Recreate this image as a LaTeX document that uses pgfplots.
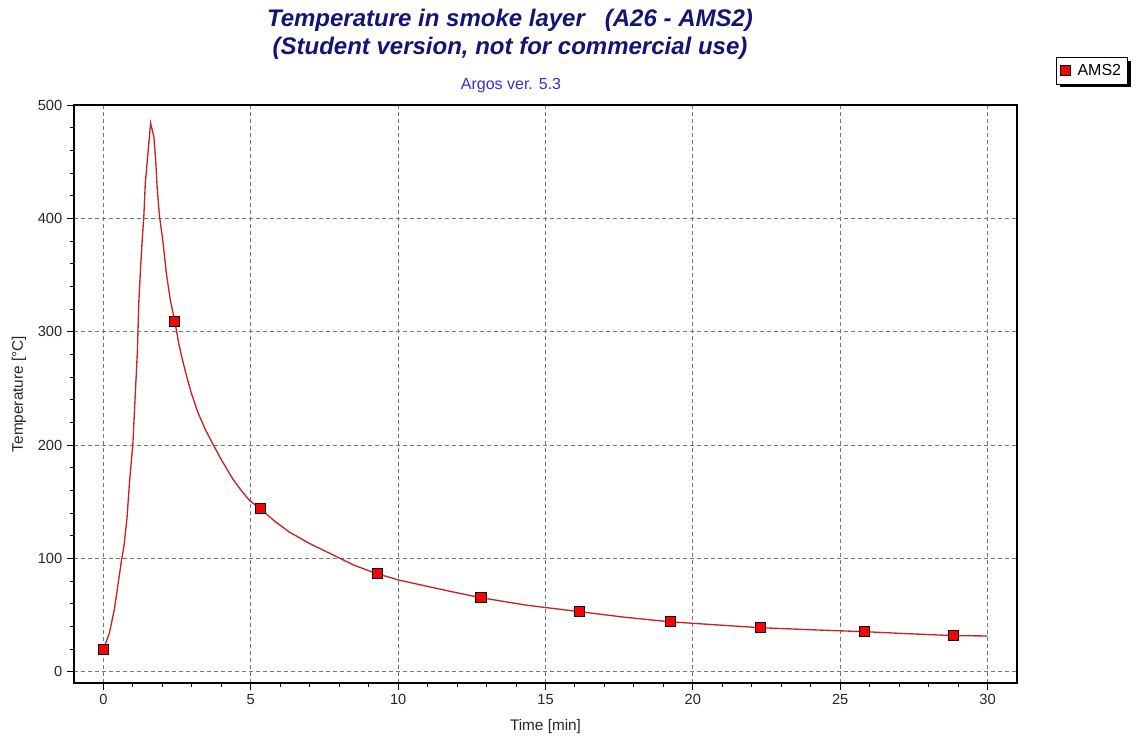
\documentclass[border=0pt]{standalone}
\usepackage{fontspec}
\setmainfont{Liberation Sans}
\usepackage{pgfplots}
\pgfplotsset{compat=1.18}
\usetikzlibrary{shadows}
\definecolor{titlenavy}{RGB}{20,20,120}
\definecolor{subblue}{RGB}{50,50,210}
\definecolor{curvered}{RGB}{200,35,35}
\definecolor{gridgray}{RGB}{120,120,120}

\begin{document}
\begin{tikzpicture}[x=0.75pt,y=0.75pt]
\path[use as bounding box] (0,0) rectangle (1137,740);
\begin{axis}[
    at={(55.5pt,42.75pt)}, anchor=south west,
    scale only axis,
    width=707.25pt, height=433.5pt,
    xmin=-1, xmax=31,
    ymin=-10, ymax=500,
    xtick={0,5,10,15,20,25,30},
    ytick={0,100,200,300,400,500},
    minor x tick num=4, minor y tick num=4,
    tick pos=left,
    tick align=outside,
    major tick length=5.25pt, minor tick length=3pt,
    xmajorgrids=true, ymajorgrids=true,
    grid style={gridgray, line width=0.75pt, dash pattern=on 3pt off 2.25pt},
    axis line style={line width=1.5pt},
    tick style={black, line width=0.75pt},
    ticklabel style={font=\fontsize{11}{13}\selectfont, black!85},
    /pgf/number format/assume math mode=true,
    xlabel={Time [min]},
    ylabel={Temperature [\textdegree C]},
    label style={font=\fontsize{11.5}{13}\selectfont, black!85},
    xlabel style={at={(axis description cs:0.5,-0.0761)}, anchor=center},
    ylabel style={at={(axis description cs:-0.0583,0.5)}, anchor=center},
    legend style={at={(axis description cs:1.118,1.083)}, anchor=north east,
        draw=black, line width=0.75pt, fill=white,
        drop shadow={shadow xshift=2.25pt, shadow yshift=-2.25pt, fill=black, opacity=1},
        font=\fontsize{12}{14}\selectfont, inner xsep=3pt, inner ysep=3pt,
        /tikz/every odd column/.append style={column sep=3pt}},
    legend cell align=left,
]
\addplot[curvered, line width=1pt, forget plot] coordinates {
    (0,20) (0.2,34) (0.37,55) (0.6,96) (0.7,112) (0.8,136) (0.88,166) (1.0,202)
    (1.05,229) (1.15,282) (1.2,326) (1.25,352) (1.31,379) (1.37,402)
    (1.42,431) (1.5,455) (1.6,484) (1.71,472) (1.77,452) (1.82,428)
    (1.9,402) (2.02,379) (2.13,352) (2.28,326) (2.41,311) (2.55,290)
    (2.7,273) (2.85,258) (2.98,246) (3.2,229) (3.45,214) (3.71,201)
    (4.0,187) (4.39,170) (4.7,159) (4.96,151) (5.36,143) (5.8,133)
    (6.32,123) (7.0,113) (7.79,103) (8.5,94) (9.27,86.5) (10.06,80.6)
    (11.76,70.9) (12.8,65.3) (14.4,58.5) (16.14,53) (17.7,48) (19.23,44)
    (20.8,41.3) (22.29,38.8) (24,37) (25.82,35.3) (27.3,33.5) (28.85,31.8)
    (30,31.5)
};
\addplot[only marks, mark=square*, mark size=3.8pt,
    mark options={fill=red, draw=black, line width=0.75pt}] coordinates {
    (0,19.4) (2.41,309) (5.33,143.9) (9.31,86.5) (12.81,65.3)
    (16.14,53) (19.23,44) (22.29,38.8) (25.82,35.3) (28.85,31.8)
};
\legend{AMS2}
\end{axis}
\node[font=\fontsize{18}{20}\selectfont\bfseries\itshape, text=titlenavy] at (510,720)
    {Temperature in smoke layer\ \ \ (A26 - AMS2)};
\node[font=\fontsize{18}{20}\selectfont\bfseries\itshape, text=titlenavy] at (510,692)
    {(Student version, not for commercial use)};
\node[font=\fontsize{12}{14}\selectfont, text=subblue] at (511,654) {Argos ver. 5.3};
\end{tikzpicture}
\end{document}
